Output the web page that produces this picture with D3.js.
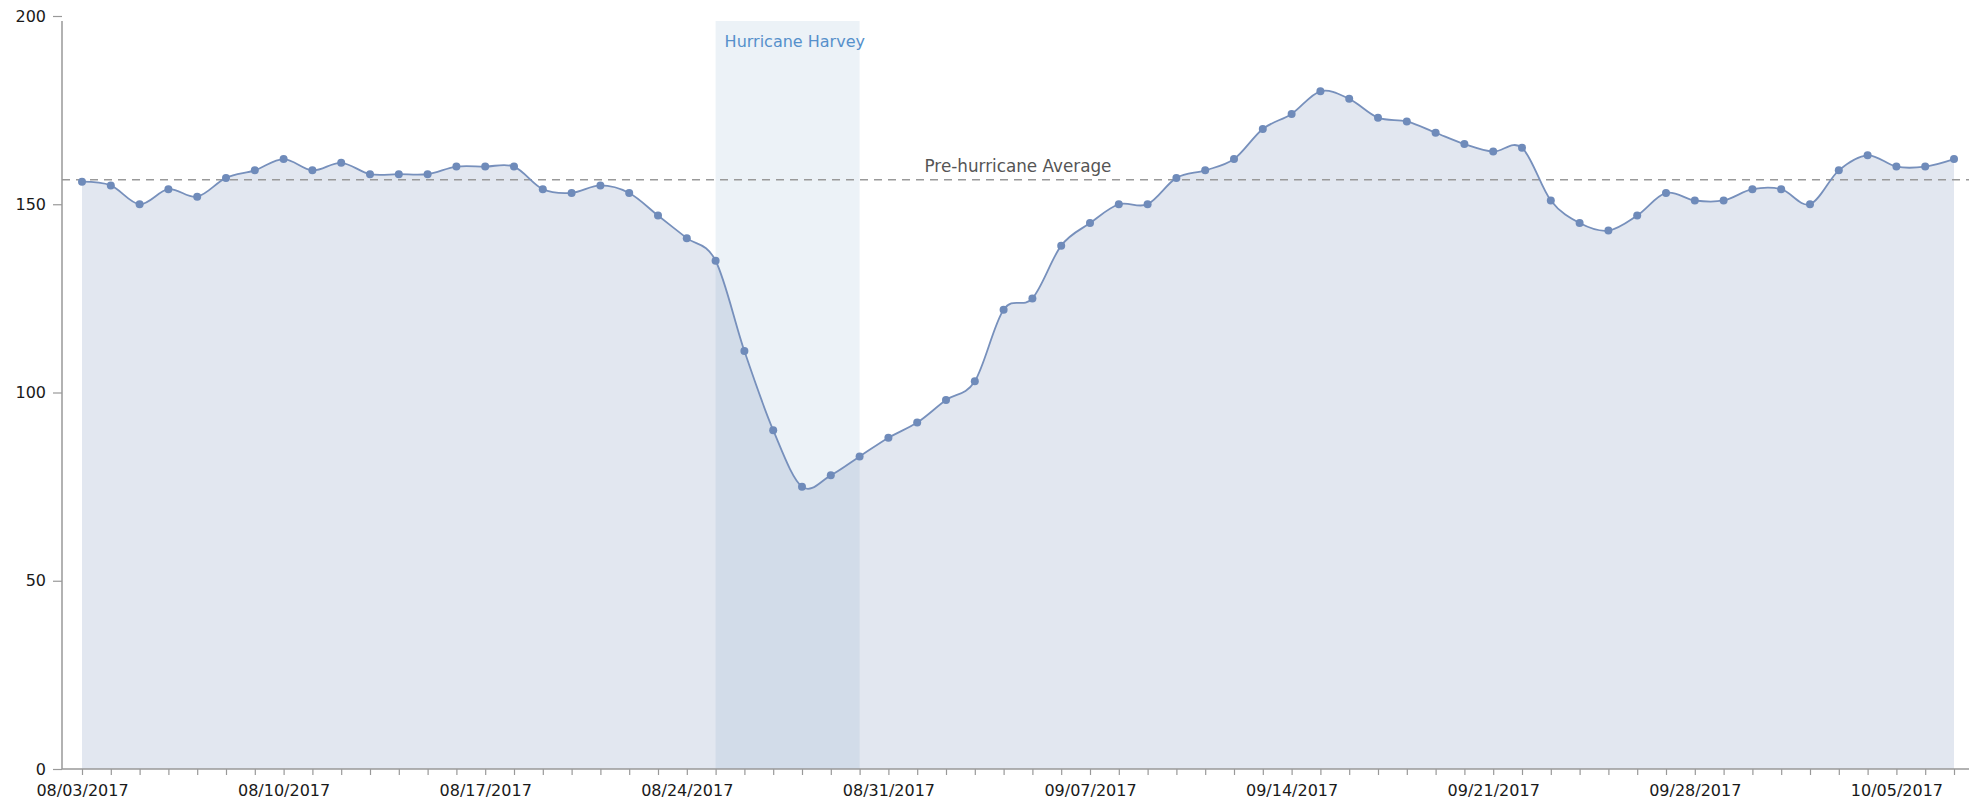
<!DOCTYPE html>
<html>
<head>
<meta charset="utf-8">
<script src="https://cdn.jsdelivr.net/npm/d3@7"></script>
<style>
  body { margin: 0; background: #fff; }
  svg { display: block; font-family: Verdana, "DejaVu Sans", sans-serif; }
</style>
</head>
<body>
<svg id="chart" width="1969" height="802"></svg>
<script>
// daily values
var dates = [
  "2017-08-03","2017-08-04","2017-08-05","2017-08-06","2017-08-07","2017-08-08","2017-08-09","2017-08-10",
  "2017-08-11","2017-08-12","2017-08-13","2017-08-14","2017-08-15","2017-08-16","2017-08-17","2017-08-18",
  "2017-08-19","2017-08-20","2017-08-21","2017-08-22","2017-08-23","2017-08-24","2017-08-25","2017-08-26",
  "2017-08-27","2017-08-28","2017-08-29","2017-08-30","2017-08-31","2017-09-01","2017-09-02","2017-09-03",
  "2017-09-04","2017-09-05","2017-09-06","2017-09-07","2017-09-08","2017-09-09","2017-09-10","2017-09-11",
  "2017-09-12","2017-09-13","2017-09-14","2017-09-15","2017-09-16","2017-09-17","2017-09-18","2017-09-19",
  "2017-09-20","2017-09-21","2017-09-22","2017-09-23","2017-09-24","2017-09-25","2017-09-26","2017-09-27",
  "2017-09-28","2017-09-29","2017-09-30","2017-10-01","2017-10-02","2017-10-03","2017-10-04","2017-10-05",
  "2017-10-06","2017-10-07"
]
var values = [
  156,155,150,154,152,157,159,162,159,161,158,158,158,160,160,160,
  154,153,155,153,147,141,135,111,90,75,78,83,88,92,98,103,
  122,125,139,145,150,150,157,159,162,170,174,180,178,173,172,169,
  166,164,165,151,145,143,147,153,151,151,154,154,150,159,163,160,
  160,162
]
var yTicks = [0, 50, 100, 150, 200]
var hurricane = ["2017-08-25", "2017-08-30"]
var hurricaneLabel = "Hurricane Harvey"
var preAverage = 156.5
var preAverageLabel = "Pre-hurricane Average"

var parseDate = d3.timeParse("%Y-%m-%d")
var data = dates.map(function(d, i) {
  return { date: parseDate(d), value: values[i] }
})

var svg = d3.select("#chart")
var width = 1969
var axisX = 62    // where the y axis sits
var plotTop = 21  // top of axis line / hurricane band

var x = d3.scaleTime()
  .domain(d3.extent(data, function(d) { return d.date }))
  .range([82, 1954])

var y = d3.scaleLinear()
  .domain([0, 200])
  .range([769, 16])

// area under the curve
var area = d3.area()
  .curve(d3.curveCardinal)
  .x(function(d) { return x(d.date) })
  .y0(y(0))
  .y1(function(d) { return y(d.value) })

svg.append("path")
  .datum(data)
  .attr("d", area)
  .style("fill", "#e2e7f0")

// hurricane band, drawn over the area so the overlap gets darker
var h0 = x(parseDate(hurricane[0]))
var h1 = x(parseDate(hurricane[1]))
svg.append("rect")
  .attr("x", h0)
  .attr("y", plotTop)
  .attr("width", h1 - h0)
  .attr("height", y(0) - plotTop)
  .style("fill", "steelblue")
  .style("opacity", 0.1)

svg.append("text")
  .attr("x", h0 + 9)
  .attr("y", plotTop + 26)
  .text(hurricaneLabel)
  .style("fill", "#5690cb")
  .style("font-size", "16px")

// pre-hurricane average line
svg.append("line")
  .attr("x1", axisX)
  .attr("x2", width)
  .attr("y1", y(preAverage))
  .attr("y2", y(preAverage))
  .style("stroke", "#999")
  .style("stroke-width", 1.5)
  .style("stroke-dasharray", "8,6")

svg.append("text")
  .attr("x", (x.range()[0] + x.range()[1]) / 2)
  .attr("y", y(preAverage) - 8)
  .attr("text-anchor", "middle")
  .text(preAverageLabel)
  .style("fill", "#555")
  .style("font-size", "16.8px")

// line + dots
var line = d3.line()
  .curve(d3.curveCardinal)
  .x(function(d) { return x(d.date) })
  .y(function(d) { return y(d.value) })

svg.append("path")
  .datum(data)
  .attr("d", line)
  .style("fill", "none")
  .style("stroke", "#7790bc")
  .style("stroke-width", 1.8)

svg.selectAll(".dot")
  .data(data)
  .enter().append("circle")
  .attr("class", "dot")
  .attr("cx", function(d) { return x(d.date) })
  .attr("cy", function(d) { return y(d.value) })
  .attr("r", 4)
  .style("fill", "#6f8bba")

// y axis
var yAxis = svg.append("g")
  .attr("transform", "translate(" + axisX + ",0)")
  .call(d3.axisLeft(y).tickValues(yTicks).tickSize(9).tickPadding(7))
yAxis.select(".domain").remove()
yAxis.append("line")
  .attr("y1", plotTop)
  .attr("y2", y(0))
  .style("stroke", "#999")
  .style("stroke-width", 1.5)

// x axis: a tick per day, a label per week
var xAxis = svg.append("g")
  .attr("transform", "translate(0," + y(0) + ")")
  .call(d3.axisBottom(x)
    .ticks(d3.timeDay.every(1))
    .tickSize(6)
    .tickPadding(10)
    .tickFormat(function(d, i) { return i % 7 == 0 ? d3.timeFormat("%m/%d/%Y")(d) : "" }))
xAxis.select(".domain").remove()
xAxis.append("line")
  .attr("x1", axisX)
  .attr("x2", width)
  .style("stroke", "#999")
  .style("stroke-width", 1.5)

svg.selectAll(".tick line").style("stroke", "#999").style("stroke-width", 1.2)
svg.selectAll(".tick text").style("fill", "#1a1a1a").style("font-size", "16px").style("font-family", "Verdana, 'DejaVu Sans', sans-serif")
</script>
</body>
</html>
